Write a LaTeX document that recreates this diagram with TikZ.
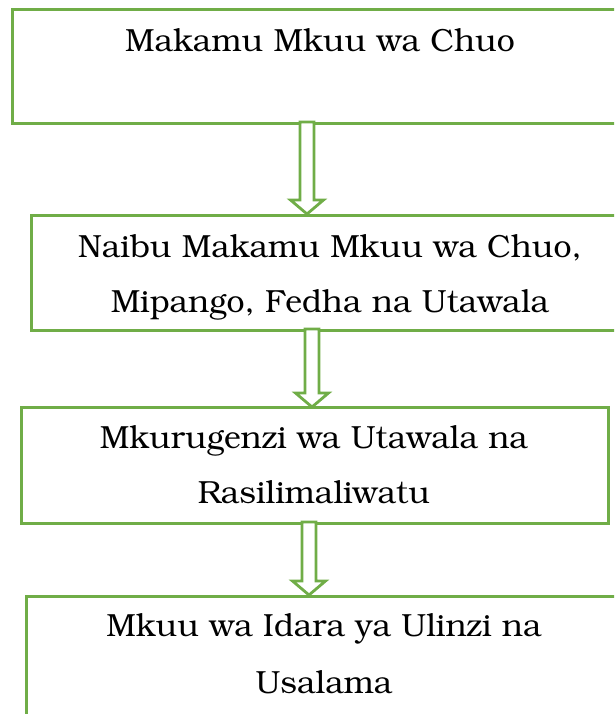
\documentclass[tikz,border=0pt]{standalone}
\usepackage[T1]{fontenc}
\usepackage{bookman}
\usetikzlibrary{calc}
\definecolor{boxgreen}{RGB}{112,173,71}
\tikzset{
  orgbox/.style={draw=boxgreen, line width=3pt, fill=white, rectangle, inner sep=0pt, anchor=north west},
  orgtext/.style={font=\fontsize{32}{55}\selectfont, align=center, anchor=base, inner sep=0pt},
  blockarrow/.style={draw=boxgreen, line width=2.8pt, fill=white, line join=miter}
}
\begin{document}
\begin{tikzpicture}[x=1pt,y=-1pt]
\useasboundingbox (0,0) rectangle (614,714);
\clip (0,0) rectangle (614,714);
\node[orgbox, minimum width=619pt, minimum height=114pt] (b1) at (11,8) {};
\node[orgbox, minimum width=600pt, minimum height=115pt] (b2) at (30,214) {};
\node[orgbox, minimum width=587pt, minimum height=116pt] (b3) at (20,406) {};
\node[orgbox, minimum width=605pt, minimum height=150pt] (b4) at (25,595) {};
\node[orgtext] (t1) at (320,52) {Makamu Mkuu wa Chuo};
\node[orgtext] (t2) at (330,312) {Naibu Makamu Mkuu wa Chuo,\\Mipango, Fedha na Utawala};
\node[orgtext] (t3) at (314,503) {Mkurugenzi wa Utawala na\\Rasilimaliwatu};
\node[orgtext, font=\fontsize{32}{57}\selectfont] (t4) at (324,693) {Mkuu wa Idara ya Ulinzi na\\Usalama};
\coordinate (a1s) at (307,122); \coordinate (a1e) at (307,214);
\coordinate (a2s) at (312,329); \coordinate (a2e) at (312,407);
\coordinate (a3s) at (309,522); \coordinate (a3e) at (309,595);
\foreach \s/\e in {a1s/a1e, a2s/a2e, a3s/a3e}{
  \draw[blockarrow] ($(\s)+(-7,0)$) -- ($(\e)+(-7,-14)$) -- ($(\e)+(-16.5,-14)$) -- (\e)
    -- ($(\e)+(16.5,-14)$) -- ($(\e)+(7,-14)$) -- ($(\s)+(7,0)$) -- cycle;
}
\end{tikzpicture}
\end{document}
